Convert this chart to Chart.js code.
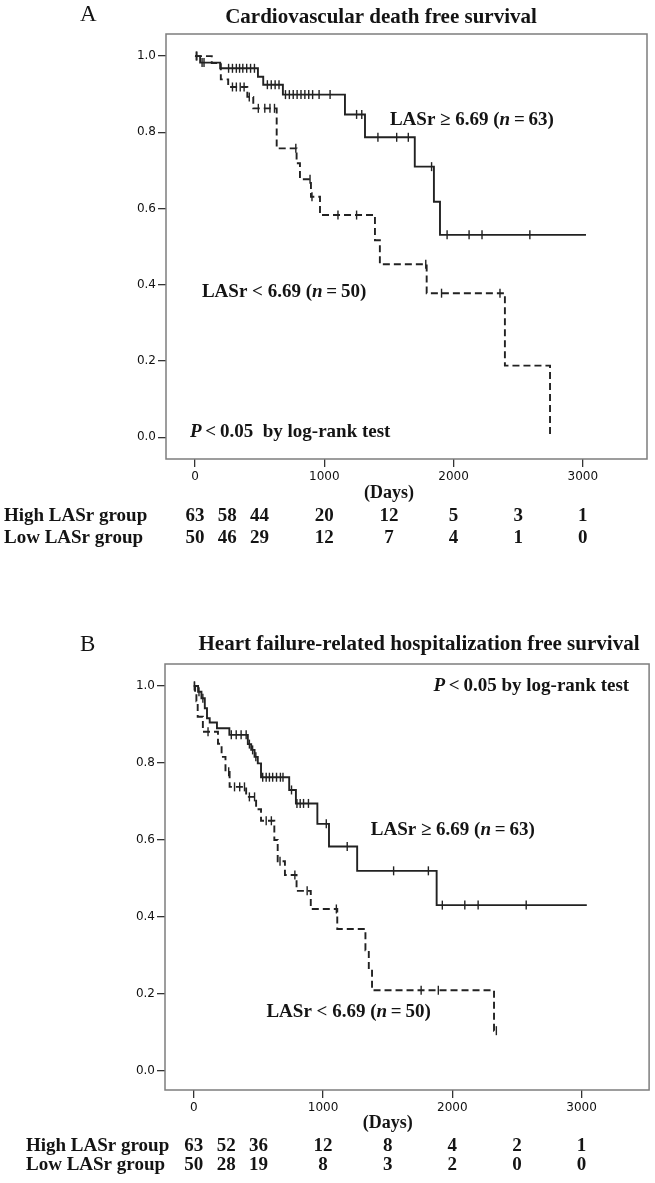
<!DOCTYPE html>
<html><head><meta charset="utf-8">
<script src="https://cdn.jsdelivr.net/npm/chart.js@4.4.0/dist/chart.umd.min.js"></script>
<style>
html,body{margin:0;padding:0;background:#fff;width:655px;height:1183px;overflow:hidden}
.p{position:absolute;left:0}
</style></head><body>
<div class="p" style="top:0"><canvas id="cA" width="655" height="630"></canvas></div>
<div class="p" style="top:630px"><canvas id="cB" width="655" height="553"></canvas></div>
<script>
// ---- shared tick / table values ----
const xTicks = [0, 1000, 2000, 3000];
const yTicks = [0, 0.2, 0.4, 0.6, 0.8, 1.0];
const riskTimes = [0, 250, 500, 1000, 1500, 2000, 2500, 3000];
const riskLabels = ["High LASr group", "Low LASr group"];

// ---- Panel A: cardiovascular death free survival ----
const aHighTimes = [0, 40, 195, 487, 528, 680, 1160, 1315, 1700, 1848, 1895, 3024];
const aHighSurv  = [1.0, 0.983, 0.968, 0.946, 0.925, 0.899, 0.847, 0.787, 0.710, 0.618, 0.531, 0.531];
const aHighCens  = [10, 55, 70, 260, 290, 320, 345, 370, 400, 430, 460, 560, 590, 620, 650, 700, 730, 760, 790, 820, 850, 880, 910, 960, 1045, 1250, 1290, 1415, 1560, 1650, 1830, 1950, 2120, 2220, 2590];
const aLowTimes  = [0, 130, 200, 257, 405, 451, 632, 786, 812, 897, 967, 1392, 1430, 1792, 2397, 2746];
const aLowSurv   = [1.0, 0.982, 0.939, 0.919, 0.893, 0.863, 0.758, 0.719, 0.677, 0.631, 0.583, 0.517, 0.454, 0.378, 0.188, 0.0];
const aLowCens   = [15, 290, 320, 350, 380, 420, 490, 540, 580, 615, 780, 890, 905, 1106, 1250, 1785, 1907, 2359];
const aRiskHigh  = [63, 58, 44, 20, 12, 5, 3, 1];
const aRiskLow   = [50, 46, 29, 12, 7, 4, 1, 0];

// ---- Panel B: heart failure-related hospitalization free survival ----
const bHighTimes = [0, 33, 59, 85, 102, 123, 179, 275, 418, 444, 470, 495, 520, 738, 790, 956, 1046, 1264, 1879, 3041];
const bHighSurv  = [1.0, 0.985, 0.968, 0.942, 0.916, 0.905, 0.890, 0.873, 0.849, 0.834, 0.816, 0.799, 0.763, 0.730, 0.695, 0.642, 0.583, 0.520, 0.431, 0.431];
const bHighCens  = [5, 40, 70, 290, 328, 366, 405, 430, 455, 480, 533, 560, 585, 610, 640, 670, 690, 756, 798, 823, 849, 887, 1025, 1187, 1546, 1815, 1923, 2097, 2200, 2572];
const bLowTimes  = [0, 10, 20, 30, 70, 187, 215, 245, 277, 405, 482, 520, 623, 649, 705, 795, 905, 1110, 1328, 1354, 1379, 2323, 2341];
const bLowSurv   = [1.0, 0.98, 0.96, 0.92, 0.881, 0.85, 0.816, 0.777, 0.738, 0.712, 0.68, 0.65, 0.60, 0.545, 0.509, 0.468, 0.421, 0.369, 0.314, 0.264, 0.21, 0.105, 0.105];
const bLowCens   = [5, 110, 270, 315, 355, 392, 430, 470, 560, 600, 667, 782, 877, 1103, 1759, 1892, 2341];
const bRiskHigh  = [63, 52, 36, 12, 8, 4, 2, 1];
const bRiskLow   = [50, 28, 19, 8, 3, 2, 0, 0];

// ---------------------------------------------------------------
const INK = '#222222';
const SERIF = '"Liberation Serif", "Times New Roman", serif';

function survAt(times, surv, t) {
  let s = surv[0];
  for (let i = 0; i < times.length; i++) { if (times[i] <= t) s = surv[i]; }
  return s;
}
function curve(times, surv, dashed) {
  return {
    type: 'line',
    data: times.map((t, i) => ({x: t, y: surv[i]})),
    stepped: 'before',
    borderColor: INK, borderWidth: 1.9,
    borderDash: dashed ? [7, 4] : [],
    pointRadius: 0, fill: false, showLine: true
  };
}
function censor(cens, times, surv) {
  return {
    type: 'line', showLine: false,
    data: cens.map(t => ({x: t, y: survAt(times, surv, t)})),
    pointStyle: 'line', pointRotation: 90, pointRadius: 4.5,
    pointBorderColor: INK, pointBorderWidth: 1.4, pointBackgroundColor: INK
  };
}

function drawRich(ctx, x, y, segs, size) {
  ctx.textAlign = 'left'; ctx.textBaseline = 'middle'; ctx.fillStyle = '#141414';
  let cx = x;
  for (const s of segs) {
    ctx.font = (s.italic ? 'italic ' : '') + 'bold ' + size + 'px ' + SERIF;
    ctx.fillText(s.t, cx, y);
    cx += ctx.measureText(s.t).width;
  }
}

function makeChart(id, cfg) {
  const textPlugin = {
    id: 'texts',
    afterDraw(chart) {
      const ctx = chart.ctx, xs = chart.scales.x, ys = chart.scales.y, ca = chart.chartArea;
      ctx.save();
      // frame
      ctx.strokeStyle = '#7d7d7d'; ctx.lineWidth = 1.5;
      ctx.strokeRect(ca.left, ca.top, ca.right - ca.left, ca.bottom - ca.top);
      // panel letter
      ctx.fillStyle = '#141414';
      ctx.font = '23px ' + SERIF; ctx.textAlign = 'left'; ctx.textBaseline = 'middle';
      ctx.fillText(cfg.letter, cfg.letterX, cfg.letterY);
      // title
      ctx.font = 'bold 21px ' + SERIF; ctx.textAlign = 'center';
      ctx.fillText(cfg.title, cfg.titleX, cfg.titleY);
      // curve labels and p-value
      for (const L of cfg.labels) {
        drawRich(ctx, xs.getPixelForValue(L.x), ys.getPixelForValue(L.y), L.segs, 19);
      }
      // (Days)
      ctx.fillStyle = '#141414';
      ctx.font = 'bold 18px ' + SERIF; ctx.textAlign = 'center'; ctx.textBaseline = 'middle';
      ctx.fillText('(Days)', xs.getPixelForValue(1500), cfg.daysY);
      // risk table
      ctx.font = 'bold 19px ' + SERIF;
      ctx.textAlign = 'left';
      ctx.fillText(riskLabels[0], cfg.riskLabelX, cfg.riskY[0]);
      ctx.fillText(riskLabels[1], cfg.riskLabelX, cfg.riskY[1]);
      ctx.textAlign = 'center';
      riskTimes.forEach((t, i) => {
        const px = xs.getPixelForValue(t);
        ctx.fillText(String(cfg.riskHigh[i]), px, cfg.riskY[0]);
        ctx.fillText(String(cfg.riskLow[i]), px, cfg.riskY[1]);
      });
      ctx.restore();
    }
  };
  return new Chart(document.getElementById(id), {
    type: 'line',
    data: { datasets: [
      curve(cfg.highT, cfg.highS, false),
      curve(cfg.lowT, cfg.lowS, true),
      censor(cfg.highC, cfg.highT, cfg.highS),
      censor(cfg.lowC, cfg.lowT, cfg.lowS)
    ]},
    options: {
      responsive: false, devicePixelRatio: 1, animation: false,
      layout: { padding: cfg.padding },
      plugins: { legend: {display: false}, tooltip: {enabled: false} },
      scales: {
        x: {
          type: 'linear', min: cfg.xMin, max: cfg.xMax,
          afterBuildTicks: s => { s.ticks = xTicks.map(v => ({value: v})); },
          afterFit: s => { s.height = 30; },
          grid: { display: true, drawOnChartArea: false, drawTicks: true, tickLength: 8, color: '#333', lineWidth: 1.3 },
          border: { display: false },
          ticks: { padding: 3, color: '#111', maxRotation: 0, font: { family: 'DejaVu Sans', size: 12 }, callback: v => String(v) }
        },
        y: {
          type: 'linear', min: cfg.yMin, max: cfg.yMax,
          afterBuildTicks: s => { s.ticks = yTicks.map(v => ({value: v})); },
          afterFit: s => { s.width = 40; },
          grid: { display: true, drawOnChartArea: false, drawTicks: true, tickLength: 8, color: '#333', lineWidth: 1.3 },
          border: { display: false },
          ticks: { padding: 2, color: '#111', font: { family: 'DejaVu Sans', size: 12 }, callback: v => Number(v).toFixed(1) }
        }
      }
    },
    plugins: [textPlugin]
  });
}

makeChart('cA', {
  letter: 'A', letterX: 80, letterY: 15,
  title: 'Cardiovascular death free survival', titleX: 381, titleY: 18,
  highT: aHighTimes, highS: aHighSurv, highC: aHighCens,
  lowT: aLowTimes, lowS: aLowSurv, lowC: aLowCens,
  riskHigh: aRiskHigh, riskLow: aRiskLow,
  padding: {top: 34, right: 8, left: 126, bottom: 141},
  xMin: -224, xMax: 3496, yMin: -0.057, yMax: 1.058,
  daysY: 493, riskLabelX: 4, riskY: [516, 538],
  labels: [
    {x: 1508, y: 0.832, segs: [{t: 'LASr \u2265 6.69 ('}, {t: 'n', italic: true}, {t: '\u2009=\u200963)'}]},
    {x: 54, y: 0.381, segs: [{t: 'LASr < 6.69 ('}, {t: 'n', italic: true}, {t: '\u2009=\u200950)'}]},
    {x: -39, y: 0.014, segs: [{t: 'P', italic: true}, {t: '\u2009<\u20090.05  by log-rank test'}]}
  ]
});

makeChart('cB', {
  letter: 'B', letterX: 80, letterY: 15,
  title: 'Heart failure-related hospitalization free survival', titleX: 419, titleY: 15,
  highT: bHighTimes, highS: bHighSurv, highC: bHighCens,
  lowT: bLowTimes, lowS: bLowSurv, lowC: bLowCens,
  riskHigh: bRiskHigh, riskLow: bRiskLow,
  padding: {top: 34, right: 3, left: 125, bottom: 63},
  xMin: -223, xMax: 3523, yMin: -0.049, yMax: 1.057,
  daysY: 493, riskLabelX: 26, riskY: [516, 535],
  labels: [
    {x: 1854, y: 1.0, segs: [{t: 'P', italic: true}, {t: '\u2009<\u20090.05 by log-rank test'}]},
    {x: 1369, y: 0.626, segs: [{t: 'LASr \u2265 6.69 ('}, {t: 'n', italic: true}, {t: '\u2009=\u200963)'}]},
    {x: 562, y: 0.153, segs: [{t: 'LASr < 6.69 ('}, {t: 'n', italic: true}, {t: '\u2009=\u200950)'}]}
  ]
});
</script>
</body></html>
